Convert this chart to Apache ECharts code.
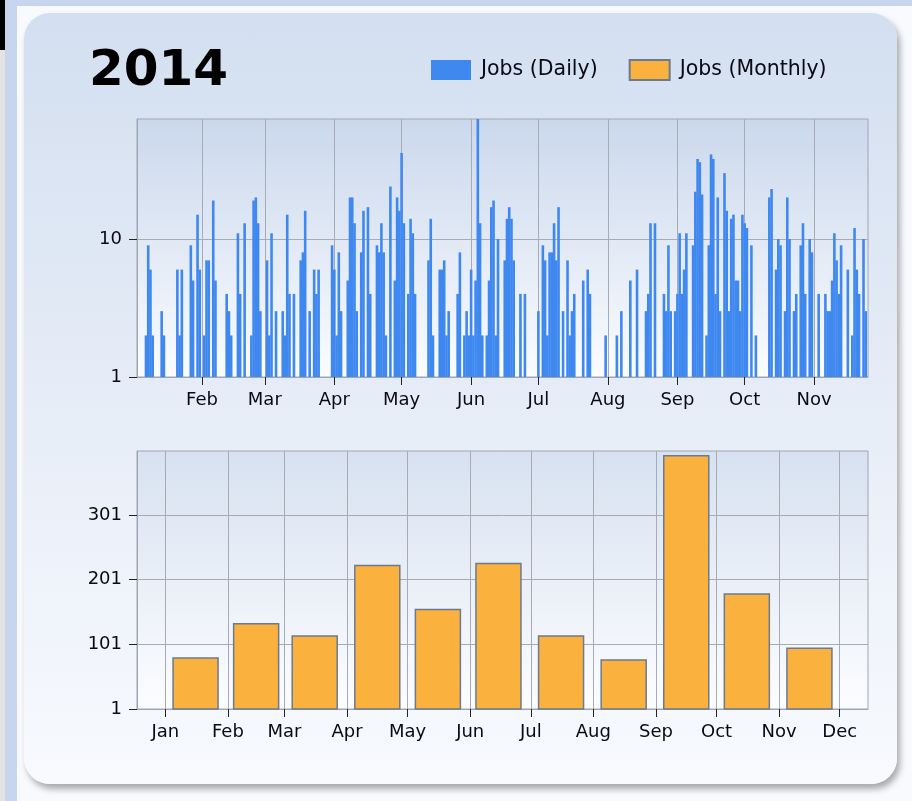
<!DOCTYPE html>
<html>
<head>
<meta charset="utf-8">
<script src="https://cdn.jsdelivr.net/npm/echarts@6/dist/echarts.min.js"></script>
<style>
  html, body { margin: 0; padding: 0; }
  body { width: 912px; height: 801px; overflow: hidden; background: #c8d5ee; position: relative; }
  #strip { position: absolute; left: 0; top: 0; width: 5px; height: 801px; background: #e3e3e3; }
  #strip .blk { height: 50px; background: #000; }
  #frame { position: absolute; left: 17px; top: 6px; right: 0; bottom: 0; background: #f8fafd; }
  #panel {
    position: absolute; left: 24px; top: 13px; width: 873px; height: 771px;
    border-radius: 26px;
    background: linear-gradient(#d3dff0, #e8eef8 55%, #f8fafe);
    box-shadow: 3px 5px 6px rgba(70, 70, 70, 0.45);
  }
  #chart { position: absolute; left: 0; top: 0; width: 912px; height: 801px; }
</style>
</head>
<body>
<div id="strip"><div class="blk"></div></div>
<div id="frame"></div>
<div id="panel"></div>
<div id="chart"></div>
<script>
// 月份名
var monthNames = ['Jan', 'Feb', 'Mar', 'Apr', 'May', 'Jun', 'Jul', 'Aug', 'Sep', 'Oct', 'Nov', 'Dec'];

// 每日任务数 (日期, 数量) —— 未列出的日期为 0/1
var dailyJobs = [
  ['2014-01-07', 2], ['2014-01-08', 9], ['2014-01-09', 6], ['2014-01-10', 2],
  ['2014-01-14', 3], ['2014-01-15', 2], ['2014-01-21', 6], ['2014-01-22', 2],
  ['2014-01-23', 6], ['2014-01-27', 9], ['2014-01-28', 5], ['2014-01-30', 15],
  ['2014-01-31', 6],
  ['2014-02-02', 2], ['2014-02-03', 7], ['2014-02-04', 7], ['2014-02-06', 19],
  ['2014-02-07', 5], ['2014-02-12', 4], ['2014-02-13', 3], ['2014-02-14', 2],
  ['2014-02-17', 11], ['2014-02-18', 4], ['2014-02-20', 13], ['2014-02-23', 2],
  ['2014-02-24', 19], ['2014-02-25', 20], ['2014-02-26', 13], ['2014-02-27', 3],
  ['2014-03-02', 7], ['2014-03-03', 2], ['2014-03-04', 11], ['2014-03-06', 3],
  ['2014-03-09', 3], ['2014-03-10', 2], ['2014-03-11', 15], ['2014-03-12', 4],
  ['2014-03-14', 4], ['2014-03-17', 7], ['2014-03-18', 8], ['2014-03-19', 16],
  ['2014-03-21', 3], ['2014-03-23', 6], ['2014-03-24', 4], ['2014-03-25', 6],
  ['2014-03-31', 9],
  ['2014-04-01', 6], ['2014-04-02', 2], ['2014-04-03', 8], ['2014-04-04', 3],
  ['2014-04-07', 5], ['2014-04-08', 20], ['2014-04-09', 20], ['2014-04-10', 13],
  ['2014-04-11', 3], ['2014-04-13', 8], ['2014-04-14', 16], ['2014-04-16', 17],
  ['2014-04-17', 4], ['2014-04-20', 9], ['2014-04-21', 8], ['2014-04-22', 13],
  ['2014-04-23', 8], ['2014-04-24', 2], ['2014-04-26', 24], ['2014-04-28', 5],
  ['2014-04-29', 20], ['2014-04-30', 16],
  ['2014-05-01', 42], ['2014-05-02', 13], ['2014-05-04', 4], ['2014-05-05', 14],
  ['2014-05-06', 11], ['2014-05-07', 4], ['2014-05-13', 7], ['2014-05-14', 14],
  ['2014-05-15', 2], ['2014-05-18', 6], ['2014-05-19', 6], ['2014-05-20', 7],
  ['2014-05-21', 2], ['2014-05-22', 3], ['2014-05-26', 4], ['2014-05-27', 8],
  ['2014-05-29', 2], ['2014-05-30', 3], ['2014-05-31', 2],
  ['2014-06-01', 6], ['2014-06-02', 2], ['2014-06-03', 5], ['2014-06-04', 74],
  ['2014-06-05', 13], ['2014-06-06', 2], ['2014-06-08', 2], ['2014-06-09', 5],
  ['2014-06-10', 17], ['2014-06-11', 19], ['2014-06-12', 2], ['2014-06-13', 10],
  ['2014-06-16', 7], ['2014-06-17', 14], ['2014-06-18', 17], ['2014-06-19', 14],
  ['2014-06-20', 7], ['2014-06-23', 4], ['2014-06-25', 4],
  ['2014-07-01', 3], ['2014-07-03', 9], ['2014-07-04', 7], ['2014-07-05', 2],
  ['2014-07-06', 8], ['2014-07-07', 8], ['2014-07-08', 13], ['2014-07-09', 7],
  ['2014-07-10', 17], ['2014-07-12', 3], ['2014-07-14', 7], ['2014-07-15', 2],
  ['2014-07-16', 3], ['2014-07-17', 4], ['2014-07-21', 5], ['2014-07-23', 6],
  ['2014-07-24', 4], ['2014-07-31', 2],
  ['2014-08-05', 2], ['2014-08-07', 3], ['2014-08-11', 5], ['2014-08-14', 6],
  ['2014-08-18', 3], ['2014-08-19', 4], ['2014-08-20', 13], ['2014-08-22', 13],
  ['2014-08-26', 4], ['2014-08-27', 3], ['2014-08-28', 9], ['2014-08-29', 3],
  ['2014-08-31', 3],
  ['2014-09-01', 4], ['2014-09-02', 11], ['2014-09-03', 4], ['2014-09-04', 6],
  ['2014-09-05', 11], ['2014-09-08', 9], ['2014-09-09', 22], ['2014-09-10', 38],
  ['2014-09-11', 36], ['2014-09-12', 21], ['2014-09-14', 2], ['2014-09-15', 9],
  ['2014-09-16', 41], ['2014-09-17', 38], ['2014-09-18', 4], ['2014-09-19', 20],
  ['2014-09-20', 3], ['2014-09-22', 30], ['2014-09-23', 16], ['2014-09-24', 3],
  ['2014-09-25', 14], ['2014-09-26', 15], ['2014-09-27', 5], ['2014-09-28', 5],
  ['2014-09-29', 3], ['2014-09-30', 15],
  ['2014-10-01', 13], ['2014-10-02', 12], ['2014-10-04', 9], ['2014-10-06', 2],
  ['2014-10-12', 20], ['2014-10-13', 23], ['2014-10-15', 6], ['2014-10-16', 10],
  ['2014-10-17', 9], ['2014-10-19', 3], ['2014-10-20', 20], ['2014-10-21', 10],
  ['2014-10-23', 3], ['2014-10-24', 4], ['2014-10-26', 9], ['2014-10-27', 13],
  ['2014-10-28', 4], ['2014-10-30', 10], ['2014-10-31', 8],
  ['2014-11-03', 4], ['2014-11-06', 4], ['2014-11-07', 3], ['2014-11-08', 3],
  ['2014-11-09', 5], ['2014-11-10', 11], ['2014-11-11', 7], ['2014-11-12', 4],
  ['2014-11-13', 9], ['2014-11-16', 6], ['2014-11-18', 2], ['2014-11-19', 12],
  ['2014-11-20', 6], ['2014-11-21', 4], ['2014-11-23', 10], ['2014-11-24', 3]
];

// 每月任务数
var monthlyJobs = [81, 134, 115, 224, 156, 227, 115, 78, 394, 180, 96];
var monthlyBarDay = [16, 15, 16, 16, 16, 15, 16, 16, 16, 16, 16];

// 坐标轴刻度
var dailyTicks = [1, 10];
var monthlyTicks = [1, 101, 201, 301];

// 生成日期类目
function pad(n) { return n < 10 ? '0' + n : '' + n; }
function dayList(from, to) {
  var out = [];
  var t = Date.UTC(from[0], from[1] - 1, from[2]);
  var end = Date.UTC(to[0], to[1] - 1, to[2]);
  while (t <= end) {
    var d = new Date(t);
    out.push(d.getUTCFullYear() + '-' + pad(d.getUTCMonth() + 1) + '-' + pad(d.getUTCDate()));
    t += 86400000;
  }
  return out;
}
var topDays = dayList([2014, 1, 3], [2014, 11, 25]);
var bottomDays = dayList([2013, 12, 18], [2014, 12, 15]);

var dailyMap = {};
dailyJobs.forEach(function (p) { dailyMap[p[0]] = p[1]; });
var dailySeries = topDays.map(function (d) { return dailyMap[d] != null ? dailyMap[d] : '-'; });

var monthlyMap = {};
monthlyJobs.forEach(function (v, i) { monthlyMap['2014-' + pad(i + 1) + '-' + pad(monthlyBarDay[i])] = v; });
var monthlySeries = bottomDays.map(function (d) { return monthlyMap[d] != null ? monthlyMap[d] : '-'; });

function isMonthStart(index, value) { return /-01$/.test(value); }
function monthLabel(value) { return monthNames[parseInt(value.substr(5, 2), 10) - 1]; }

var labelFont = { fontFamily: 'DejaVu Sans', fontSize: 18, color: '#0a0a14' };
var gridLine = { color: '#a6abb5', width: 1 };
var borderGrey = '#a0a6b0';

function xAxisFor(gridIndex, days) {
  return {
    type: 'category', gridIndex: gridIndex, data: days, boundaryGap: false,
    axisLine: { show: true, lineStyle: { color: borderGrey } },
    axisTick: { show: true, interval: isMonthStart, length: 8, lineStyle: { color: '#222' } },
    axisLabel: Object.assign({ interval: isMonthStart, formatter: monthLabel, margin: 14 }, labelFont),
    splitLine: { show: true, interval: isMonthStart, lineStyle: gridLine }
  };
}

var myChart = echarts.init(document.getElementById('chart'));
var option = {
  animation: false,
  title: {
    text: '2014', left: 84, top: 42,
    textStyle: { fontFamily: 'DejaVu Sans', fontWeight: 'bold', fontSize: 50, color: '#000' }
  },
  legend: {
    data: ['Jobs (Daily)', 'Jobs (Monthly)'],
    left: 426, top: 54, icon: 'rect', itemWidth: 40, itemHeight: 20, itemGap: 31,
    textStyle: { fontFamily: 'DejaVu Sans', fontSize: 20.5, color: '#0a0a14', padding: [0, 0, 0, 5] }
  },
  grid: [
    {
      left: 137, right: 44, top: 119, height: 258, show: true, borderColor: borderGrey, borderWidth: 1,
      backgroundColor: new echarts.graphic.LinearGradient(0, 0, 0, 1, [
        { offset: 0, color: '#cbd8ec' }, { offset: 1, color: '#fafcff' }
      ])
    },
    {
      left: 137, right: 44, top: 451, height: 258, show: true, borderColor: borderGrey, borderWidth: 1,
      backgroundColor: new echarts.graphic.LinearGradient(0, 0, 0, 1, [
        { offset: 0, color: '#d7e1f0' }, { offset: 1, color: '#fcfdff' }
      ])
    }
  ],
  xAxis: [xAxisFor(0, topDays), xAxisFor(1, bottomDays)],
  yAxis: [
    {
      type: 'log', logBase: 10, gridIndex: 0, min: 1, max: 74,
      axisLine: { show: true, lineStyle: { color: borderGrey } },
      axisTick: { show: true, customValues: dailyTicks, length: 8, lineStyle: { color: '#222' } },
      axisLabel: Object.assign({ customValues: dailyTicks, margin: 15 }, labelFont),
      splitLine: { show: true, lineStyle: gridLine }
    },
    {
      type: 'value', gridIndex: 1, min: 1, max: 400,
      axisLine: { show: true, lineStyle: { color: borderGrey } },
      axisTick: { show: true, customValues: monthlyTicks, length: 8, lineStyle: { color: '#222' } },
      axisLabel: Object.assign({ customValues: monthlyTicks, margin: 15 }, labelFont),
      splitLine: { show: true, lineStyle: gridLine }
    }
  ],
  series: [
    {
      name: 'Jobs (Daily)', type: 'bar', xAxisIndex: 0, yAxisIndex: 0,
      data: dailySeries, barWidth: 2.6, barMinWidth: 2.6,
      itemStyle: { color: '#3f88ef' }
    },
    {
      name: 'Jobs (Monthly)', type: 'bar', xAxisIndex: 1, yAxisIndex: 1,
      data: monthlySeries, barWidth: 46.5,
      itemStyle: { color: '#fab13d', borderColor: '#6b7a90', borderWidth: 1.5 }
    }
  ]
};
myChart.setOption(option);
</script>
</body>
</html>
